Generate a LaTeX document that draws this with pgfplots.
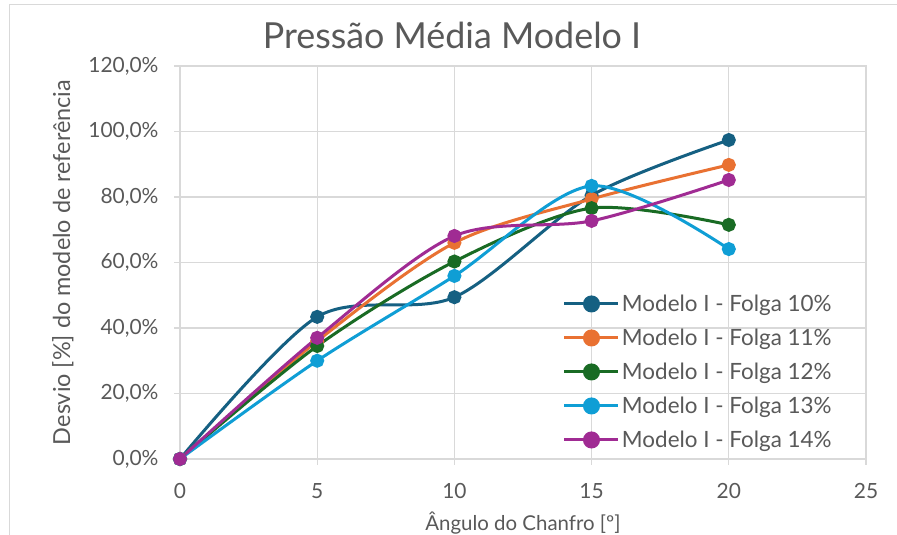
\documentclass[border=0pt]{standalone}
\usepackage{pgfplots}
\pgfplotsset{compat=1.18}
\usepackage{fontspec}
\setmainfont{Lato}
\definecolor{txt}{HTML}{595959}
\definecolor{gridc}{HTML}{D9D9D9}
\definecolor{c1}{HTML}{156082}
\definecolor{c2}{HTML}{E97132}
\definecolor{c3}{HTML}{196B24}
\definecolor{c4}{HTML}{0F9ED5}
\definecolor{c5}{HTML}{A02B93}
\begin{document}
\begin{tikzpicture}[x=1bp,y=1bp]
\useasboundingbox (0,0) rectangle (897,535);
\fill[white] (0,0) rectangle (897,535);
\draw[gridc,line width=1bp] (9,0) -- (9,530) -- (897,530);
\node[txt,font=\fontsize{36}{42}\selectfont] at (452,500) {Pressão Média Modelo I};
\begin{axis}[
  at={(180bp,76bp)}, anchor=south west,
  scale only axis, width=686bp, height=393bp,
  xmin=0, xmax=25, ymin=0, ymax=120,
  xtick={0,5,...,25}, ytick={0,20,...,120},
  yticklabels={{0,0\%},{20,0\%},{40,0\%},{60,0\%},{80,0\%},{100,0\%},{120,0\%}},
  /pgf/number format/assume math mode=true,
  grid=major, grid style={gridc,line width=1.2bp},
  axis line style={gridc,line width=1.2bp},
  tick style={gridc,line width=1.2bp},
  tick align=outside, major tick length=6bp,
  xtick pos=bottom, ytick pos=left,
  ticklabel style={txt,font=\fontsize{21}{24}\selectfont},
  xticklabel style={yshift=-15bp},
  yticklabel style={xshift=-12bp},
  xlabel={Ângulo do Chanfro [º]},
  xlabel style={txt,font=\fontsize{20.5}{24}\selectfont, yshift=-6bp},
  ylabel={Desvio [\%] do modelo de referência},
  ylabel style={txt,font=\fontsize{23.5}{27}\selectfont, yshift=8bp},
  legend style={at={(0.558,0.423)}, anchor=north west, draw=none, fill=none,
    font=\fontsize{22.5}{26}\selectfont, text=txt, row sep=12bp,
    inner sep=0pt, nodes={inner sep=2bp}},
  legend cell align=left,
  legend image code/.code={
    \draw[#1,line width=3bp] (0bp,0bp) -- (54bp,0bp);
    \fill[#1] (27bp,0bp) circle (7bp);
  },
  every axis plot/.append style={line width=3bp, smooth, tension=0.5, mark=*, mark size=5.5bp},
  clip=false,
]
\addplot[c1, mark options={fill=c1,draw=c1}] coordinates {(0,0) (5,43.4) (10,49.4) (15,80.5) (20,97.4)};
\addplot[c2, mark options={fill=c2,draw=c2}] coordinates {(0,0) (5,36) (10,66) (15,79.4) (20,89.8)};
\addplot[c3, mark options={fill=c3,draw=c3}] coordinates {(0,0) (5,34.5) (10,60.3) (15,76.6) (20,71.5)};
\addplot[c4, mark options={fill=c4,draw=c4}] coordinates {(0,0) (5,30) (10,55.9) (15,83.4) (20,64.1)};
\addplot[c5, mark options={fill=c5,draw=c5}] coordinates {(0,0) (5,37) (10,68.1) (15,72.7) (20,85.2)};
\legend{Modelo I - Folga 10\%, Modelo I - Folga 11\%, Modelo I - Folga 12\%, Modelo I - Folga 13\%, Modelo I - Folga 14\%}
\end{axis}
\end{tikzpicture}
\end{document}
